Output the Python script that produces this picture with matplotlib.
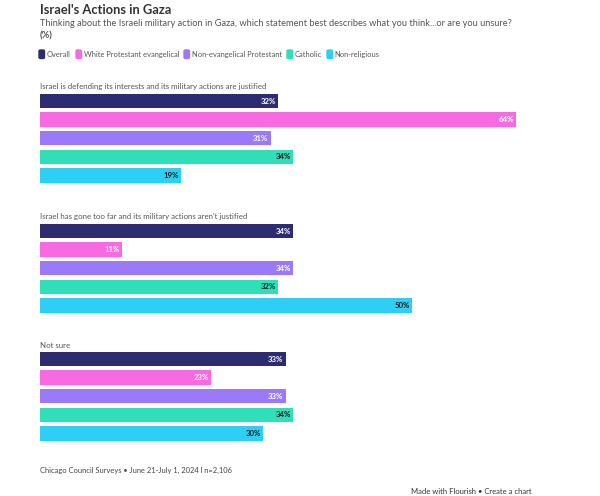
import matplotlib
matplotlib.use("Agg")
import matplotlib.pyplot as plt
from matplotlib.patches import FancyBboxPatch

plt.rcParams["font.family"] = ["Lato", "DejaVu Sans"]

questions = ["Israel is defending its interests and its military actions are justified",
             "Israel has gone too far and its military actions aren't justified",
             "Not sure"]
groups = ["Overall", "White Protestant evangelical", "Non-evangelical Protestant",
          "Catholic", "Non-religious"]
overall = [32, 34, 33]
white_evang = [64, 11, 23]
non_evang = [31, 34, 33]
catholic = [34, 32, 34]
non_relig = [19, 50, 30]
series = [overall, white_evang, non_evang, catholic, non_relig]

colors = ["#2e2c71", "#f76ae1", "#9c79f8", "#30dfb8", "#2fcef4"]
label_colors = ["white", "white", "white", "#1a1a1a", "#1a1a1a"]

W, H = 600, 496
fig = plt.figure(figsize=(W / 100, H / 100), dpi=100)

# axes: x from 40px to 600px, 1% = 7.44px; y in pixel rows
x0 = 40
ax = fig.add_axes([x0 / W, 0, 1 - x0 / W, 1])
ax.set_xlim(0, (W - x0) / 7.44)
ax.set_ylim(H, 0)
ax.axis("off")

group_top = [101, 231, 359]
pitch = 18.6
bar_h = 14.5
for q, top in enumerate(group_top):
    ax.text(0, top - 10.5, questions[q], fontsize=5.7, color="#555555", va="bottom", ha="left")
    for i, s in enumerate(series):
        y = top + i * pitch
        ax.barh(y, s[q], height=bar_h, color=colors[i], edgecolor="none")
        ax.text(s[q] - 0.3, y, f"{s[q]}%", fontsize=5.6, fontweight="bold",
                color=label_colors[i], ha="right", va="center")

# titles
fig.text(x0 / W, 1 - 4 / H, "Israel's Actions in Gaza", fontsize=9.3, fontweight="bold",
         color="#333333", ha="left", va="top")
fig.text(x0 / W, 1 - 24 / H,
         "Thinking about the Israeli military action in Gaza, which statement best describes what you think...or are you unsure?",
         fontsize=6.65, color="#555555", ha="left", va="center")
fig.text(x0 / W, 1 - 36 / H, "(%)", fontsize=6.65, fontweight="bold", color="#555555",
         ha="left", va="center")

# legend
lx = [39, 76, 184, 287, 327]
for name, c, x in zip(groups, colors, lx):
    fig.patches.append(FancyBboxPatch((x / W, 1 - 58.5 / H), 5.5 / W, 8.5 / H,
                                      boxstyle="round,pad=0,rounding_size=0.0025",
                                      transform=fig.transFigure, color=c, figure=fig))
    fig.text((x + 7.5) / W, 1 - 54.5 / H, name, fontsize=5.45, color="#555555",
             ha="left", va="center")

# footer
fig.text(x0 / W, 1 - 470 / H, "Chicago Council Surveys \u2022 June 21-July 1, 2024 l n=2,106",
         fontsize=5.4, color="#444444", ha="left", va="center")
fig.text(411 / W, 1 - 491 / H, "Made with Flourish \u2022 Create a chart", fontsize=5.5,
         color="#333333", ha="left", va="center")

fig.savefig("out.png", dpi=100)
